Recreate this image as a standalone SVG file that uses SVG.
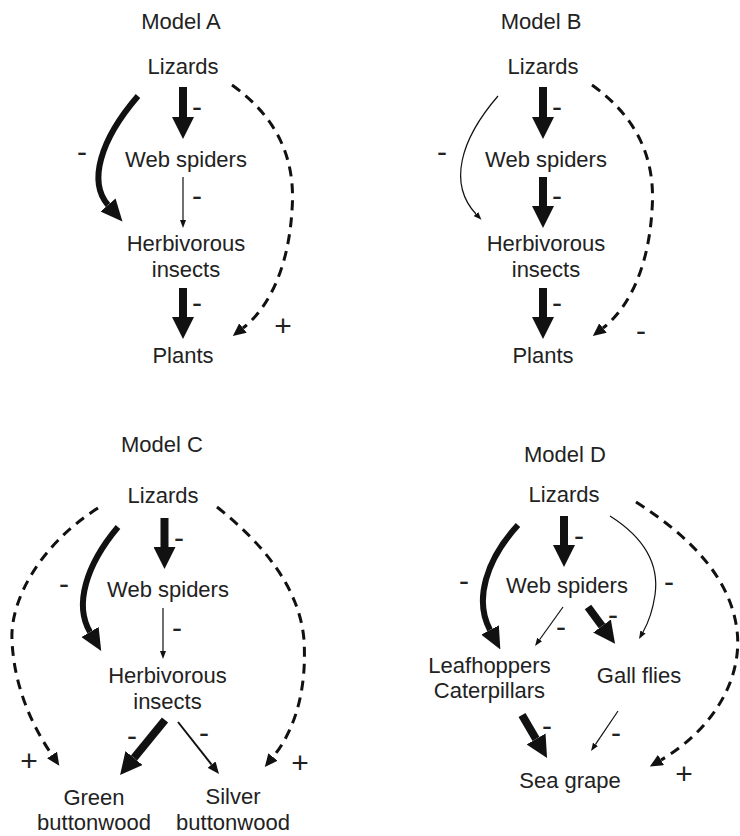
<svg xmlns="http://www.w3.org/2000/svg" width="740" height="836" viewBox="0 0 740 836">
<style>
text{font-family:"Liberation Sans",Arial,sans-serif;fill:#222;text-anchor:middle}
.n{font-size:22px}
.s{font-size:30px}
.c{fill:none;stroke:#111}
.th{stroke-width:8}
.tc{stroke-width:6}
.tn{stroke-width:1.2}
.tm{stroke-width:2}
.d{stroke-width:3;stroke-dasharray:10 7}
</style>
<defs>
<marker id="hL" markerUnits="userSpaceOnUse" markerWidth="22" markerHeight="22" viewBox="0 0 22 22" refX="0" refY="11" orient="auto"><path d="M0,0 L22,11 L0,22 z" fill="#111"/></marker>
<marker id="hC" markerUnits="userSpaceOnUse" markerWidth="22" markerHeight="20" viewBox="0 0 22 20" refX="0" refY="10" orient="auto"><path d="M0,0 L22,10 L0,20 z" fill="#111"/></marker>
<marker id="hS" markerUnits="userSpaceOnUse" markerWidth="8" markerHeight="6" viewBox="0 0 8 6" refX="0" refY="3" orient="auto"><path d="M0,0 L8,3 L0,6 z" fill="#111"/></marker>
<marker id="hM" markerUnits="userSpaceOnUse" markerWidth="12" markerHeight="10" viewBox="0 0 12 10" refX="0" refY="5" orient="auto"><path d="M0,0 L12,5 L0,10 z" fill="#111"/></marker>
<marker id="hD" markerUnits="userSpaceOnUse" markerWidth="13" markerHeight="12" viewBox="0 0 13 12" refX="0" refY="6" orient="auto"><path d="M0,0 L13,6 L0,12 z" fill="#111"/></marker>
</defs>

<g id="titles">
<text class="n" x="181" y="29">Model A</text>
<text class="n" x="541" y="29">Model B</text>
<text class="n" x="162" y="452">Model C</text>
<text class="n" x="565" y="462">Model D</text>
</g>

<!-- Model A nodes -->
<g id="a-lizards"><text class="n" x="183" y="74">Lizards</text></g>
<g id="a-spiders"><text class="n" x="186" y="167">Web spiders</text></g>
<g id="a-herbivores"><text class="n" x="186" y="251">Herbivorous</text><text class="n" x="186" y="277">insects</text></g>
<g id="a-plants"><text class="n" x="183" y="363">Plants</text></g>

<!-- Model B nodes -->
<g id="b-lizards"><text class="n" x="543" y="74">Lizards</text></g>
<g id="b-spiders"><text class="n" x="546" y="167">Web spiders</text></g>
<g id="b-herbivores"><text class="n" x="546" y="251">Herbivorous</text><text class="n" x="546" y="277">insects</text></g>
<g id="b-plants"><text class="n" x="543" y="363">Plants</text></g>

<!-- Model C nodes -->
<g id="c-lizards"><text class="n" x="163" y="503">Lizards</text></g>
<g id="c-spiders"><text class="n" x="168" y="597">Web spiders</text></g>
<g id="c-herbivores"><text class="n" x="167.5" y="683">Herbivorous</text><text class="n" x="167.5" y="709">insects</text></g>
<g id="c-green"><text class="n" x="94" y="805">Green</text><text class="n" x="94" y="830">buttonwood</text></g>
<g id="c-silver"><text class="n" x="233" y="804">Silver</text><text class="n" x="233" y="830">buttonwood</text></g>

<!-- Model D nodes -->
<g id="d-lizards"><text class="n" x="564" y="502">Lizards</text></g>
<g id="d-spiders"><text class="n" x="567" y="593">Web spiders</text></g>
<g id="d-leafhoppers"><text class="n" x="489.5" y="673">Leafhoppers</text><text class="n" x="489.5" y="698">Caterpillars</text></g>
<g id="d-gallflies"><text class="n" x="639" y="683">Gall flies</text></g>
<g id="d-seagrape"><text class="n" x="570" y="788">Sea grape</text></g>

<g id="connectors">
<g id="conn-a">
<path class="c th" d="M183,87 V117" marker-end="url(#hL)"/>
<path class="c tc" d="M138,96 C100,140 88,182 108,205" marker-end="url(#hC)"/>
<path class="c tn" d="M183,177 V220" marker-end="url(#hS)"/>
<path class="c th" d="M183,288 V317" marker-end="url(#hL)"/>
<path class="c d" d="M232,85 C278,118 296,160 292,210 C289,262 272,305 243,328" marker-end="url(#hD)"/>
<text class="s" x="197" y="116.5">-</text>
<text class="s" x="82" y="161.5">-</text>
<text class="s" x="197" y="205.5">-</text>
<text class="s" x="197" y="312.5">-</text>
<text class="s" x="283" y="335.5">+</text>
</g>
<g id="conn-b" transform="translate(360,0)">
<path class="c th" d="M183,87 V117" marker-end="url(#hL)"/>
<path class="c tn" d="M138,96 C100,140 88,184 116,214" marker-end="url(#hS)"/>
<path class="c th" d="M183,177 V206" marker-end="url(#hL)"/>
<path class="c th" d="M183,288 V317" marker-end="url(#hL)"/>
<path class="c d" d="M232,85 C278,118 296,160 292,210 C289,262 272,305 243,328" marker-end="url(#hD)"/>
<text class="s" x="197" y="116.5">-</text>
<text class="s" x="82" y="161.5">-</text>
<text class="s" x="197" y="205.5">-</text>
<text class="s" x="197" y="312.5">-</text>
<text class="s" x="281" y="340.5">-</text>
</g>
<g id="conn-c">
<path class="c th" d="M164.5,518 V547" marker-end="url(#hL)"/>
<path class="c tc" d="M118,527 C86,565 74,605 90,632" marker-end="url(#hC)"/>
<path class="c tn" d="M163,608 V651" marker-end="url(#hS)"/>
<path class="c th" d="M165,720 L134,758" marker-end="url(#hL)"/>
<path class="c tm" d="M178,722 L211.6,764.6" marker-end="url(#hM)"/>
<path class="c d" d="M98,508 C40,545 10,600 12,640 C14,690 35,730 52,755" marker-end="url(#hD)"/>
<path class="c d" d="M217,507 C265,545 300,590 304,640 C307,690 295,730 273,757" marker-end="url(#hD)"/>
<text class="s" x="179" y="547.5">-</text>
<text class="s" x="64" y="593.5">-</text>
<text class="s" x="177" y="637.5">-</text>
<text class="s" x="132" y="745.5">-</text>
<text class="s" x="204" y="742.5">-</text>
<text class="s" x="29" y="770.5">+</text>
<text class="s" x="300" y="772.5">+</text>
</g>
<g id="conn-d">
<path class="c th" d="M564,516 V545" marker-end="url(#hL)"/>
<path class="c tc" d="M518,525 C486,560 474,600 490,630" marker-end="url(#hC)"/>
<path class="c tn" d="M563,607 L539.7,639.5" marker-end="url(#hS)"/>
<path class="c th" d="M588,607 L602,626" marker-end="url(#hL)"/>
<path class="c tn" d="M610,516 C640,535 660,560 655,595 C652,615 647,625 643,632" marker-end="url(#hS)"/>
<path class="c d" d="M636,502 C686,534 730,575 737,630 C743,680 712,730 661,760" marker-end="url(#hD)"/>
<path class="c th" d="M522,715 L536,739" marker-end="url(#hL)"/>
<path class="c tn" d="M618,711 L595.5,744.4" marker-end="url(#hS)"/>
<text class="s" x="579" y="545.5">-</text>
<text class="s" x="464" y="590.5">-</text>
<text class="s" x="561" y="636.5">-</text>
<text class="s" x="613" y="624.5">-</text>
<text class="s" x="669" y="591.5">-</text>
<text class="s" x="547" y="735.5">-</text>
<text class="s" x="616" y="742.5">-</text>
<text class="s" x="684" y="783.5">+</text>
</g>
</g>
</svg>
